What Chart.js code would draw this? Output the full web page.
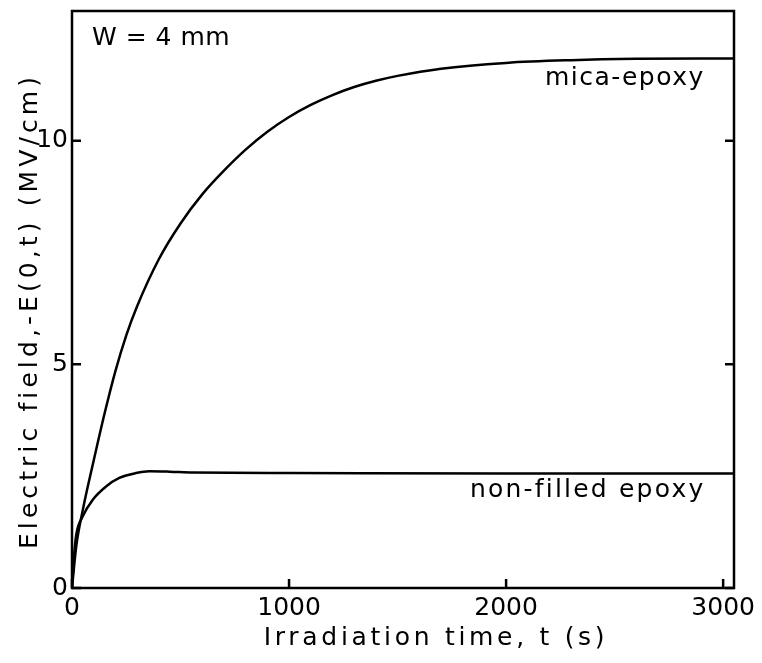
<!DOCTYPE html>
<html>
<head>
<meta charset="utf-8">
<script src="https://cdn.jsdelivr.net/npm/chart.js@4.4.1/dist/chart.umd.min.js"></script>
<style>
  html, body { margin: 0; padding: 0; background: #fff; }
  #wrap { width: 762px; height: 663px; }
</style>
</head>
<body>
<div id="wrap"><canvas id="field"></canvas></div>
<script>
// irradiation time (s) and surface field -E(0,t) (MV/cm)
const micaTime = [0, 20, 50, 100, 150, 200, 250, 300, 400, 500, 600, 700, 800, 900, 1000, 1100, 1200, 1300, 1400, 1500, 1700, 2000, 2300, 2600, 3050];
const micaField = [0, 0.95, 1.75, 2.85, 3.9, 4.85, 5.65, 6.3, 7.35, 8.15, 8.8, 9.33, 9.8, 10.2, 10.53, 10.8, 11.02, 11.2, 11.34, 11.45, 11.61, 11.74, 11.8, 11.83, 11.84];
const plainTime = [0, 10, 20, 49, 95, 157, 218, 295, 357, 450, 557, 1000, 2000, 3050];
const plainField = [0, 0.75, 1.2, 1.6, 1.97, 2.27, 2.46, 2.57, 2.61, 2.60, 2.58, 2.57, 2.56, 2.56];
const xTicks = [0, 1000, 2000, 3000];
const yTicks = [0, 5, 10];

const FONT = '"DejaVu Sans", sans-serif';
const toPoints = (xs, ys) => xs.map((x, i) => ({ x: x, y: ys[i] }));

// frame, inward tick marks and the text labels
const frame = {
  id: 'frame',
  afterDraw(chart) {
    const ctx = chart.ctx;
    const a = chart.chartArea;
    const xs = chart.scales.x, ys = chart.scales.y;
    ctx.save();
    ctx.strokeStyle = '#000';
    ctx.lineWidth = 2.5;
    ctx.strokeRect(a.left, a.top, a.right - a.left, a.bottom - a.top);
    ctx.beginPath();
    xTicks.forEach(v => {
      const px = xs.getPixelForValue(v);
      ctx.moveTo(px, a.bottom);
      ctx.lineTo(px, a.bottom - 9);
    });
    yTicks.forEach(v => {
      const py = ys.getPixelForValue(v);
      ctx.moveTo(a.left, py);
      ctx.lineTo(a.left + 9, py);
      ctx.moveTo(a.right, py);
      ctx.lineTo(a.right - 9, py);
    });
    ctx.stroke();

    ctx.fillStyle = '#000';
    ctx.font = '25px ' + FONT;
    ctx.textBaseline = 'alphabetic';
    ctx.textAlign = 'left';
    ctx.letterSpacing = '0.5px';
    ctx.fillText('W = 4 mm', a.left + 20, 45);
    ctx.letterSpacing = '1.5px';
    ctx.fillText('mica-epoxy', 545, 85);
    ctx.letterSpacing = '2.2px';
    ctx.fillText('non-filled epoxy', 470, 497);

    ctx.letterSpacing = '3.7px';
    ctx.textAlign = 'center';
    ctx.fillText('Irradiation time, t (s)', 436, 645);
    ctx.translate(37, 311);
    ctx.rotate(-Math.PI / 2);
    ctx.letterSpacing = '4.1px';
    ctx.fillText('Electric field,-E(0,t) (MV/cm)', 0, 0);
    ctx.restore();
  }
};

new Chart(document.getElementById('field'), {
  type: 'scatter',
  data: {
    datasets: [
      { label: 'mica-epoxy', data: toPoints(micaTime, micaField) },
      { label: 'non-filled epoxy', data: toPoints(plainTime, plainField) }
    ]
  },
  options: {
    responsive: true,
    maintainAspectRatio: false,
    animation: false,
    showLine: true,
    layout: { padding: { top: 11, right: 28, left: 0, bottom: 0 } },
    elements: {
      point: { radius: 0 },
      line: { borderColor: '#000', borderWidth: 2.5, cubicInterpolationMode: 'monotone', fill: false }
    },
    plugins: { legend: { display: false }, tooltip: { enabled: false } },
    scales: {
      x: {
        type: 'linear',
        min: 0,
        max: 3050,
        afterBuildTicks: s => { s.ticks = xTicks.map(v => ({ value: v })); },
        afterFit: s => { s.height = 75; s.paddingLeft = 0; s.paddingRight = 0; },
        grid: { display: false, drawTicks: false },
        border: { display: false },
        ticks: { color: '#000', font: { family: FONT, size: 25 }, padding: 5, maxRotation: 0, callback: v => String(v) }
      },
      y: {
        type: 'linear',
        min: 0,
        max: 12.9,
        afterBuildTicks: s => { s.ticks = yTicks.map(v => ({ value: v })); },
        afterFit: s => { s.width = 72; s.paddingTop = 0; s.paddingBottom = 0; },
        grid: { display: false, drawTicks: false },
        border: { display: false },
        ticks: { color: '#000', font: { family: FONT, size: 25 }, padding: 4, callback: v => String(v) }
      }
    }
  },
  plugins: [frame]
});
</script>
</body>
</html>
